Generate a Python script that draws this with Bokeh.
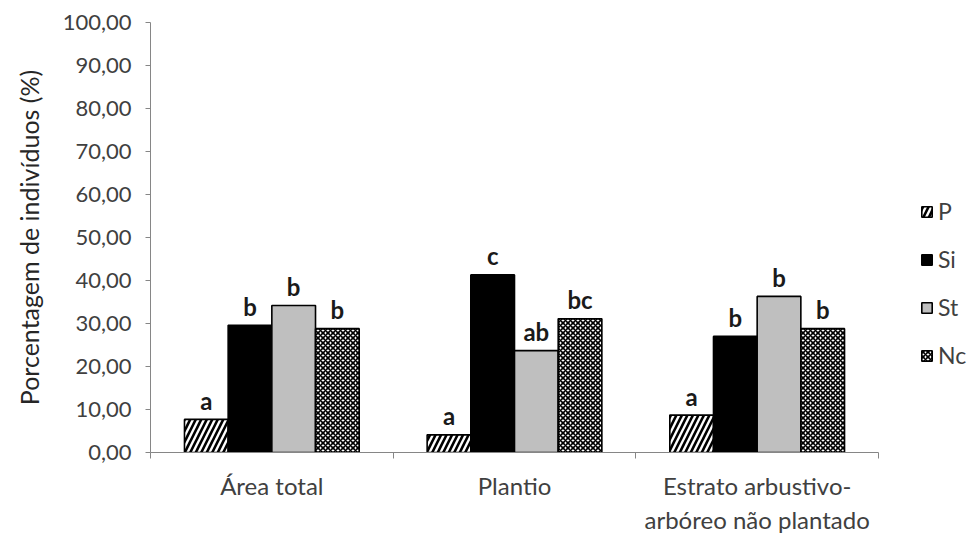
from bokeh.plotting import figure
from bokeh.models import Range1d, FixedTicker, Legend, LegendItem, ColumnDataSource
from bokeh.core.properties import value
from bokeh.embed import file_html
from bokeh.resources import INLINE

categories = ["Área total", "Plantio", "Estrato arbustivo-\narbóreo não plantado"]
series = ["P", "Si", "St", "Nc"]
P = [7.7, 4.1, 8.7]
Si = [29.6, 41.3, 27.0]
St = [34.2, 23.7, 36.3]
Nc = [28.8, 31.1, 28.8]
letters_P = ["a", "a", "a"]
letters_Si = ["b", "c", "b"]
letters_St = ["b", "ab", "b"]
letters_Nc = ["b", "bc", "b"]
y_ticks = [0, 10, 20, 30, 40, 50, 60, 70, 80, 90, 100]

FONT = "Lato"
TXT = "#404040"

n = len(categories)
# frame spans 150..975 px; the category axis occupies the first 728 px of it,
# the remainder hosts the legend
x_end = n * 825.0 / 728.0

p = figure(width=980, height=540, output_backend="svg", toolbar_location=None,
           x_range=Range1d(0, x_end), y_range=Range1d(0, 100),
           min_border_left=150, min_border_right=5, min_border_top=22, min_border_bottom=88)
p.outline_line_color = None
p.xgrid.grid_line_color = None
p.ygrid.grid_line_color = None
p.background_fill_color = "white"
p.border_fill_color = "white"

styles = {
    "P": dict(fill_color="white", hatch_pattern="/", hatch_color="black", hatch_weight=2.6, hatch_scale=11),
    "Si": dict(fill_color="black"),
    "St": dict(fill_color="#bfbfbf"),
    "Nc": dict(fill_color="white", hatch_pattern="x", hatch_color="black", hatch_weight=1.6, hatch_scale=5),
}
data = {"P": P, "Si": Si, "St": St, "Nc": Nc}
letters = {"P": letters_P, "Si": letters_Si, "St": letters_St, "Nc": letters_Nc}
bw = 0.18
offsets = [-1.5 * bw, -0.5 * bw, 0.5 * bw, 1.5 * bw]
items = []
for s, off in zip(series, offsets):
    xs = [i + 0.5 + off for i in range(n)]
    src = ColumnDataSource(dict(x=xs, top=data[s], lab=letters[s]))
    r = p.vbar(x="x", top="top", width=bw, bottom=0, source=src,
               line_color="black", line_width=1.6, **styles[s])
    items.append(LegendItem(label=s, renderers=[r]))
    p.text(x="x", y="top", text="lab", source=src, text_align="center",
           text_baseline="alphabetic", y_offset=-19, text_font=value(FONT),
           text_font_style="bold", text_font_size="24px", text_color="#1a1a1a")

legend = Legend(items=items, location=(770, 83), orientation="vertical",
                glyph_width=13, glyph_height=13, label_height=26, spacing=20,
                padding=0, margin=0, label_standoff=5,
                label_text_font=FONT, label_text_font_size="23px", label_text_color=TXT,
                border_line_color=None, background_fill_alpha=0)
p.add_layout(legend, "center")

# y axis
ya = p.yaxis[0]
ya.ticker = FixedTicker(ticks=y_ticks)
ya.major_label_overrides = {t: f"{t},00" for t in y_ticks}
ya.minor_tick_line_color = None
ya.major_tick_in = 0
ya.major_tick_out = 5
ya.axis_line_color = "#868686"
ya.major_tick_line_color = "#868686"
ya.major_label_text_font = FONT
ya.major_label_text_font_size = "22px"
ya.major_label_text_color = TXT
ya.major_label_standoff = 14
ya.axis_label = "Porcentagem de indivíduos (%)"
ya.axis_label_text_font = FONT
ya.axis_label_text_font_size = "25px"
ya.axis_label_text_font_style = "normal"
ya.axis_label_text_color = "#262626"
ya.axis_label_standoff = 16

# x axis
xa = p.xaxis[0]
centers = [i + 0.5 for i in range(n)]
bounds = [float(i) for i in range(n + 1)]
xa.bounds = (0, n)
xa.ticker = FixedTicker(ticks=centers, minor_ticks=bounds)
xa.major_label_overrides = {c: lab for c, lab in zip(centers, categories)}
xa.major_tick_line_color = None
xa.minor_tick_in = 0
xa.minor_tick_out = 6
xa.minor_tick_line_color = "#868686"
xa.axis_line_color = "#868686"
xa.major_label_text_font = FONT
xa.major_label_text_font_size = "24px"
xa.major_label_text_color = TXT
xa.major_label_standoff = 12

open("out.html", "w").write(file_html(p, INLINE))
